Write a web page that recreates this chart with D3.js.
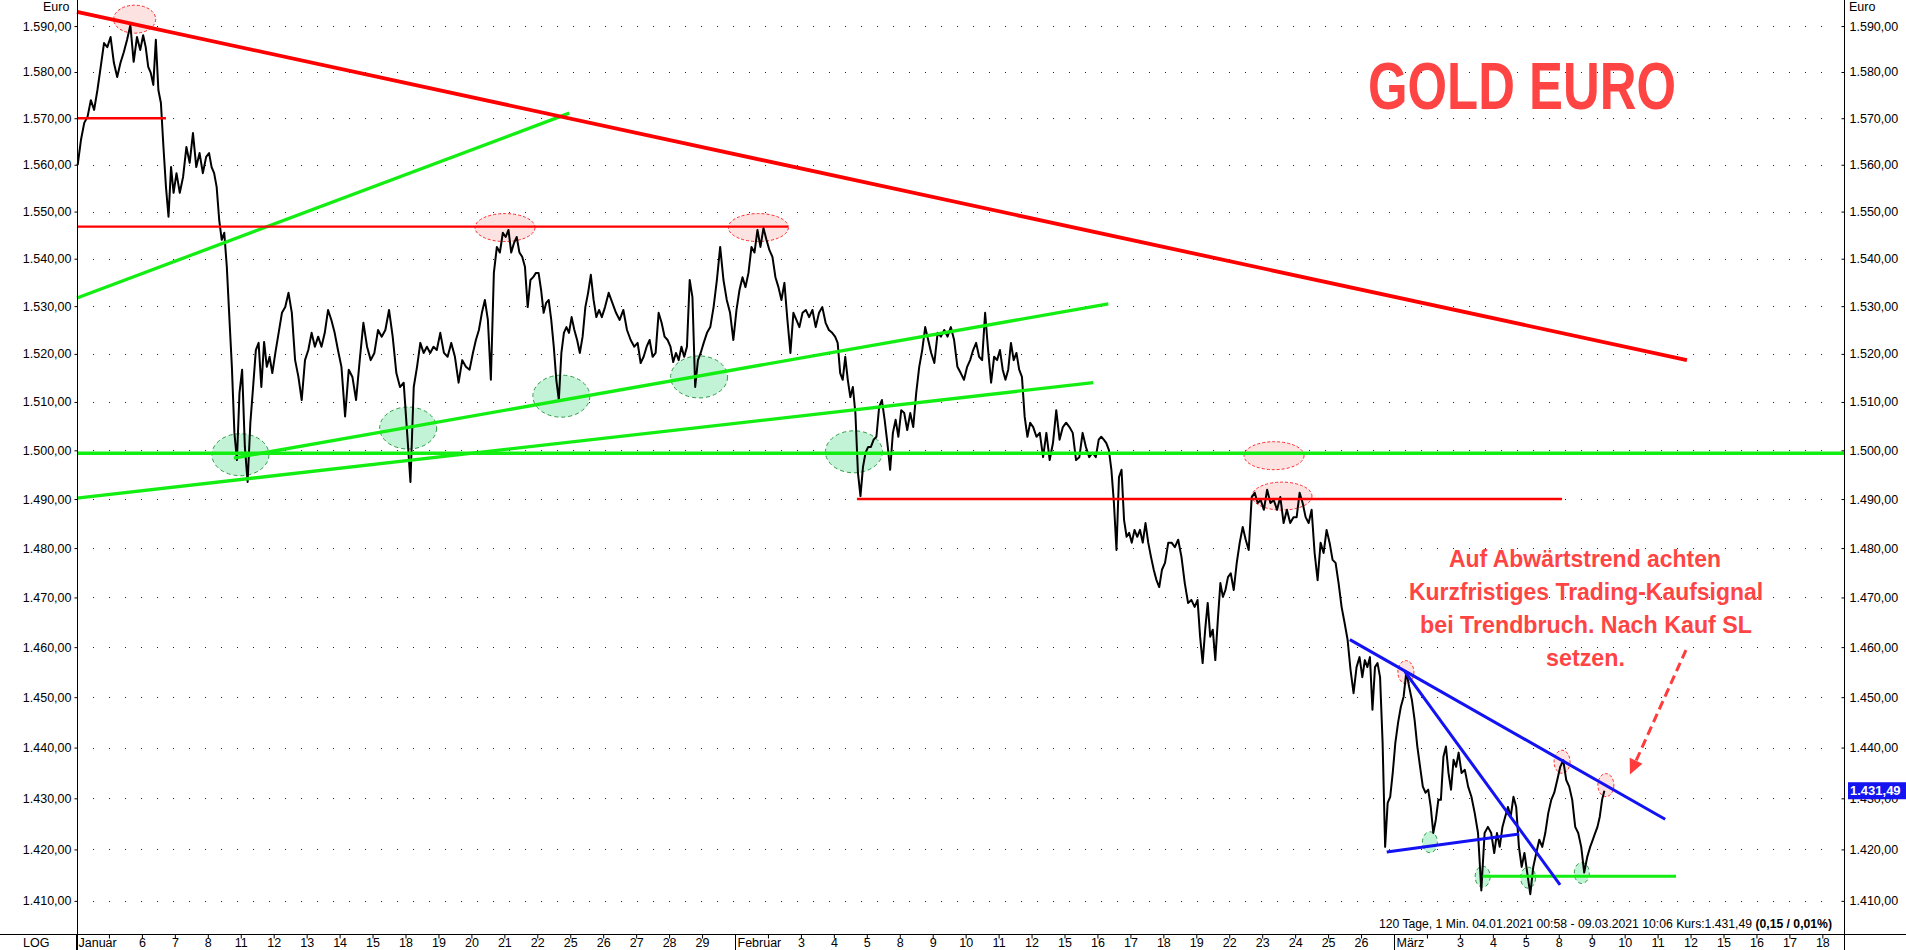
<!DOCTYPE html>
<html lang="de">
<head>
<meta charset="UTF-8">
<title>Gold Euro</title>
<style>
  body { margin: 0; background: #fff; }
  svg { display: block; font-family: "Liberation Sans", Arial, sans-serif; }
  .note { font-weight: bold; fill: #ff4444; }
</style>
</head>
<body>
<svg id="chart" width="1906" height="950"></svg>
<script src="https://cdn.jsdelivr.net/npm/d3@7"></script>
<script>

// trading days on the time axis (04.01. .. 18.03.2021), month start shows the month name
var dayLabels = ["Januar", "", "6", "7", "8", "11", "12", "13", "14", "15", "18", "19", "20", "21", "22", "25", "26", "27", "28", "29",
    "Februar", "", "3", "4", "5", "8", "9", "10", "11", "12", "15", "16", "17", "18", "19", "22", "23", "24", "25", "26",
    "März", "", "3", "4", "5", "8", "9", "10", "11", "12", "15", "16", "17", "18"]

// price path, one list per trading day
var dayPrices = [
    [1559.9, 1565.3, 1569.0, 1570.3, 1573.9, 1571.8, 1576.1, 1581.1, 1586.3, 1585.4],
    [1587.6, 1582.0, 1578.9, 1582.0, 1584.3, 1587.0, 1590.2, 1582.2, 1587.6, 1584.8],
    [1588.0, 1585.4, 1581.1, 1579.8, 1577.2, 1587.0, 1576.1, 1573.3, 1563.8, 1555.2, 1548.9, 1559.5, 1554.0],
    [1558.2, 1554.0, 1557.4, 1563.8, 1560.4, 1566.8, 1559.5, 1562.5, 1558.2, 1561.7],
    [1562.5, 1559.5, 1558.2, 1555.2, 1548.2, 1544.0, 1545.5, 1538.3, 1527.7, 1517.3, 1503.6, 1498.0, 1511.9],
    [1516.7, 1500.7, 1493.5, 1505.7, 1513.1, 1520.8, 1522.3, 1513.1, 1522.5, 1517.3, 1519.4, 1516.0],
    [1520.2, 1524.4, 1528.6, 1529.8, 1532.8, 1528.6, 1518.7, 1515.2, 1510.4, 1518.7],
    [1520.8, 1524.4, 1521.5, 1523.6, 1521.5, 1524.4, 1529.2, 1527.1, 1524.4, 1520.8],
    [1517.3, 1507.0, 1516.7, 1515.2, 1510.4, 1518.7, 1526.5, 1521.5, 1518.7],
    [1520.2, 1525.0, 1523.6, 1525.0, 1529.2, 1523.6, 1516.0, 1513.1, 1514.0],
    [1503.6, 1493.5, 1513.1, 1517.3, 1522.3, 1520.2, 1521.5, 1520.2, 1521.5, 1520.8],
    [1524.4, 1520.2, 1519.4, 1522.3, 1519.4, 1514.0, 1518.7, 1517.3, 1516.7],
    [1520.2, 1522.9, 1525.0, 1528.6, 1531.3, 1527.1, 1514.6, 1537.0, 1542.5, 1541.3, 1545.5],
    [1544.6, 1546.1, 1541.3, 1543.3, 1544.6, 1541.3, 1540.4, 1538.3, 1529.8, 1535.5, 1536.1, 1537.0],
    [1537.0, 1533.4, 1528.6, 1530.7, 1531.3, 1527.1, 1521.5, 1514.6, 1510.4, 1520.2, 1524.4, 1525.6, 1524.4],
    [1527.7, 1525.0, 1522.9, 1520.2, 1523.6, 1529.8, 1532.8, 1536.6, 1531.3, 1527.7, 1529.2, 1527.7],
    [1529.8, 1532.8, 1530.7, 1528.6, 1527.1, 1529.2, 1525.0, 1522.9, 1521.5],
    [1522.3, 1518.1, 1519.4, 1521.5, 1522.9, 1519.4, 1520.2, 1528.6, 1526.5, 1523.6, 1522.9],
    [1521.5, 1518.3, 1520.2, 1518.7, 1521.5, 1519.4, 1521.5, 1535.5, 1531.9, 1513.1, 1518.7, 1520.2],
    [1522.3, 1524.4, 1525.6, 1529.8, 1535.5, 1542.5, 1535.5, 1531.3, 1528.6, 1522.9],
    [1529.2, 1533.4, 1536.1, 1534.0, 1537.0, 1542.5, 1541.3, 1546.1, 1542.5, 1546.5, 1544.0],
    [1541.8, 1540.4, 1536.1, 1534.0, 1531.3, 1534.9, 1527.1, 1520.2, 1528.6, 1527.1, 1525.6],
    [1528.6, 1529.2, 1527.7, 1529.2, 1525.6, 1528.6, 1529.8, 1526.5, 1525.0, 1524.4],
    [1523.6, 1522.3, 1516.0, 1514.6, 1519.4, 1514.6, 1511.0, 1513.1, 1507.7, 1495.4, 1490.6, 1496.6, 1499.5],
    [1500.7, 1500.7, 1502.2, 1502.8, 1509.0, 1510.4, 1506.3, 1501.5, 1496.0, 1503.6, 1506.3, 1502.8],
    [1508.3, 1507.7, 1504.2, 1507.7, 1504.8, 1511.9, 1517.3, 1520.8, 1525.6, 1522.9, 1520.2],
    [1518.1, 1524.4, 1523.6, 1525.0, 1523.6, 1525.6, 1522.9, 1517.3, 1516.0, 1514.6],
    [1517.3, 1518.7, 1520.8, 1522.3, 1519.4, 1518.7, 1528.6, 1520.8, 1514.0, 1519.4, 1518.7],
    [1520.8, 1516.7, 1514.6, 1516.7, 1522.3, 1518.7, 1520.2, 1516.7, 1515.2, 1506.9, 1502.8, 1505.7],
    [1504.8, 1502.8, 1503.6, 1498.6, 1503.6, 1498.0, 1501.5, 1508.3, 1502.2, 1504.8],
    [1505.7, 1504.8, 1503.6, 1498.0, 1498.6, 1503.6, 1500.7, 1498.6, 1499.5, 1498.6],
    [1502.2, 1502.8, 1502.2, 1501.5, 1500.1, 1496.0, 1489.2, 1479.6, 1494.5, 1496.0, 1485.7, 1482.3, 1483.1],
    [1481.1, 1483.7, 1482.3, 1483.7, 1481.1, 1485.1, 1481.1, 1478.2, 1475.6, 1473.5, 1472.1, 1475.6],
    [1477.0, 1481.1, 1481.1, 1480.2, 1481.7, 1478.2, 1472.9, 1468.9, 1469.5, 1468.1],
    [1469.5, 1462.1, 1456.8, 1463.5, 1468.9, 1462.1, 1463.5, 1457.4, 1465.5, 1472.9, 1470.1, 1471.5, 1474.1],
    [1474.9, 1471.5, 1477.0, 1481.1, 1484.3, 1481.7, 1479.6, 1490.4, 1491.3, 1489.2, 1489.8],
    [1487.8, 1491.9, 1489.2, 1489.8, 1487.8, 1490.4, 1485.1, 1487.8, 1485.1, 1486.3],
    [1486.3, 1491.3, 1489.2, 1486.3, 1485.1, 1487.8, 1479.0, 1473.5, 1481.1, 1479.0, 1483.7],
    [1481.1, 1477.6, 1477.0, 1472.9, 1468.1, 1464.9, 1461.5, 1455.4, 1450.8, 1456.0, 1458.0],
    [1454.0, 1457.4, 1456.0, 1458.0, 1447.5, 1456.0, 1456.8, 1454.0, 1441.0, 1420.5, 1429.1, 1430.3, 1435.0],
    [1441.0, 1445.0, 1448.1, 1450.1, 1455.1, 1452.1, 1449.5, 1445.5, 1440.2, 1436.2, 1432.3, 1431.1],
    [1431.7, 1428.3, 1423.2, 1425.8, 1429.7, 1429.7, 1438.2, 1440.2, 1435.0, 1431.7, 1437.6, 1436.2, 1439.0],
    [1435.0, 1435.6, 1432.3, 1430.3, 1427.1, 1423.2, 1412.0, 1423.2, 1424.4, 1423.2],
    [1419.3, 1423.2, 1420.5, 1424.4, 1426.4, 1428.3, 1426.4, 1430.3, 1428.3, 1420.5, 1416.6, 1419.3],
    [1415.4, 1411.3, 1416.6, 1419.3, 1421.9, 1420.5, 1423.2, 1427.1, 1429.7, 1431.1, 1433.6],
    [1436.2, 1437.5, 1433.6, 1432.3, 1429.7, 1424.4, 1423.2, 1420.5, 1415.5, 1418.5, 1420.5],
    [1421.9, 1423.2, 1424.4, 1426.4, 1429.7, 1431.49]
]
var lastDayShare = 0.42   // last quote 09.03. 10:06

var yTicks = [1410, 1420, 1430, 1440, 1450, 1460, 1470, 1480, 1490, 1500, 1510, 1520, 1530, 1540, 1550, 1560, 1570, 1580, 1590]
var lastPrice = 1431.49

// drawn analysis lines: [day0, price0, day1, price1] (day = trading day index)
var redLines = [
    [0.03, 1593.1, 48.89, 1518.7],
    [0.03, 1570.0, 2.73, 1570.0],
    [0.03, 1546.8, 21.61, 1546.8],
    [23.70, 1490.0, 45.10, 1490.0]
]
var greenLines = [
    [0.03, 1531.7, 14.97, 1571.1],
    [0.03, 1499.4, 53.66, 1499.4],
    [0.03, 1490.2, 30.87, 1514.0],
    [4.79, 1498.4, 31.33, 1530.5],
    [42.69, 1414.8, 48.56, 1414.8]
]
var blueLines = [
    [38.66, 1461.5, 48.23, 1425.9],
    [40.33, 1455.1, 45.04, 1413.1],
    [39.78, 1419.5, 43.80, 1423.0]
]
var arrowLine = [48.86, 1459.4, 47.16, 1434.7]

// marked tops / bottoms: [day, price, size]
var tops = [[1.78, 1591.5, "M"], [13.02, 1546.6, "L"], [20.71, 1546.6, "L"], [36.36, 1498.9, "L"], [36.60, 1490.6, "L"],
    [40.36, 1455.0, "S"], [45.10, 1437.2, "S"], [46.43, 1432.6, "S"]]
var bottoms = [[4.99, 1499.1, "L"], [10.08, 1504.6, "L"], [14.73, 1511.2, "L"], [18.91, 1515.2, "L"], [23.61, 1499.7, "L"],
    [41.09, 1421.4, "S"], [42.69, 1414.7, "S"], [44.07, 1414.5, "S"], [45.70, 1415.4, "S"]]

var left = 77, right = 1844, bottom = 934, dayW = 32.95

var svg = d3.select("#chart")
var x = d3.scaleLinear().domain([0, dayLabels.length]).range([76, 76 + dayLabels.length * dayW])
var y = d3.scaleLog().domain([1403.6, 1595.7]).range([bottom, 0])
var de = d3.formatLocale({decimal: ",", thousands: ".", grouping: [3], currency: ["", " €"]})
var fmt = de.format(",.2f")

svg.append("rect").attr("width", 1906).attr("height", 950).attr("fill", "#fff")

// dotted grid rows
var grid = svg.append("g").attr("shape-rendering", "crispEdges")
yTicks.forEach(function (v) {
    for (var k = 1; left + 16 * k < right - 16; k++) {
        grid.append("rect").attr("x", left + 16 * k).attr("y", Math.round(y(v)))
            .attr("width", 1).attr("height", 1).attr("fill", "#222")
    }
})

// marker ellipses
var rad = {topL: [30, 14], topM: [21, 14], topS: [8, 11.5], botL: [28.5, 21], botS: [7.5, 10.5]}
svg.append("g").selectAll("ellipse").data(tops).enter().append("ellipse")
    .attr("cx", function (d) { return x(d[0]) })
    .attr("cy", function (d) { return y(d[1]) })
    .attr("rx", function (d) { return rad["top" + d[2]][0] })
    .attr("ry", function (d) { return rad["top" + d[2]][1] })
    .attr("fill", "#fde2e2").attr("stroke", "#ff2b2b").attr("stroke-width", 1).attr("stroke-dasharray", "3,2")
svg.append("g").selectAll("ellipse").data(bottoms).enter().append("ellipse")
    .attr("cx", function (d) { return x(d[0]) })
    .attr("cy", function (d) { return y(d[1]) })
    .attr("rx", function (d) { return rad["bot" + d[2]][0] })
    .attr("ry", function (d) { return rad["bot" + d[2]][1] })
    .attr("fill", "#c3f3d6").attr("stroke", "#2f9b45").attr("stroke-width", 1).attr("stroke-dasharray", "4,3")

// price path
var pts = []
dayPrices.forEach(function (arr, i) {
    var share = i === dayPrices.length - 1 ? lastDayShare : 1
    arr.forEach(function (p, j) {
        pts.push([i + (j + 0.5) / arr.length * share, p])
    })
})
svg.append("path").datum(pts)
    .attr("d", d3.line().x(function (d) { return x(d[0]) }).y(function (d) { return y(d[1]) }))
    .attr("fill", "none").attr("stroke", "#000").attr("stroke-width", 2).attr("stroke-linejoin", "round")

// analysis lines
function drawLines(data, color, widths) {
    svg.append("g").selectAll("line").data(data).enter().append("line")
        .attr("x1", function (d) { return x(d[0]) })
        .attr("y1", function (d) { return y(d[1]) })
        .attr("x2", function (d) { return x(d[2]) })
        .attr("y2", function (d) { return y(d[3]) })
        .attr("stroke", color)
        .attr("stroke-width", function (d, i) { return widths[i] })
}
drawLines(greenLines, "#12ee12", [3.3, 3.6, 3.3, 3.3, 3])
drawLines(redLines, "#ff0000", [3.8, 2.4, 2.4, 2.6])
drawLines(blueLines, "#1212f2", [3, 3, 3])

// dashed arrow to the break point
var ax1 = x(arrowLine[0]), ay1 = y(arrowLine[1]), ax2 = x(arrowLine[2]), ay2 = y(arrowLine[3])
var len = Math.hypot(ax2 - ax1, ay2 - ay1), ux = (ax2 - ax1) / len, uy = (ay2 - ay1) / len
svg.append("line")
    .attr("x1", ax1).attr("y1", ay1).attr("x2", ax2 - ux * 12).attr("y2", ay2 - uy * 12)
    .attr("stroke", "#ff3b3b").attr("stroke-width", 3).attr("stroke-dasharray", "9,5")
svg.append("polygon")
    .attr("points", [[ax2, ay2], [ax2 - ux * 15 - uy * 7, ay2 - uy * 15 + ux * 7], [ax2 - ux * 15 + uy * 7, ay2 - uy * 15 - ux * 7]].join(" "))
    .attr("fill", "#ff3b3b")

// title and comment
svg.append("text").attr("class", "note").attr("x", 1368).attr("y", 109)
    .attr("font-size", 67).attr("textLength", 308).attr("lengthAdjust", "spacingAndGlyphs")
    .text("GOLD EURO")
var comment = [
    ["Auf Abwärtstrend achten", 1449, 567, 272],
    ["Kurzfristiges Trading-Kaufsignal", 1409, 600, 354],
    ["bei Trendbruch. Nach Kauf SL", 1420, 633, 332],
    ["setzen.", 1546, 666, 79]
]
svg.append("g").selectAll("text").data(comment).enter().append("text")
    .attr("class", "note").attr("font-size", 24)
    .attr("x", function (d) { return d[1] })
    .attr("y", function (d) { return d[2] })
    .attr("textLength", function (d) { return d[3] })
    .attr("lengthAdjust", "spacingAndGlyphs")
    .text(function (d) { return d[0] })

// frame lines
svg.append("line").attr("x1", 0).attr("x2", 1906).attr("y1", bottom + 0.5).attr("y2", bottom + 0.5).attr("stroke", "#000")
svg.append("line").attr("x1", left + 0.5).attr("x2", left + 0.5).attr("y1", 0).attr("y2", 950).attr("stroke", "#000")
svg.append("line").attr("x1", right + 0.5).attr("x2", right + 0.5).attr("y1", 0).attr("y2", 950).attr("stroke", "#000")

function styleAxis(g) {
    g.select(".domain").remove()
    g.attr("font-size", 12.5).attr("font-family", "'Liberation Sans', Arial, sans-serif")
    g.selectAll("text").attr("fill", "#000")
    g.selectAll("line").attr("stroke", "#000")
}

svg.append("g").attr("transform", "translate(" + (left + 0.5) + ",0)")
    .call(d3.axisLeft(y).tickValues(yTicks).tickFormat(fmt).tickSizeInner(3).tickSizeOuter(0).tickPadding(3))
    .call(styleAxis)
svg.append("g").attr("transform", "translate(" + (right + 0.5) + ",0)")
    .call(d3.axisRight(y).tickValues(yTicks).tickFormat(fmt).tickSizeInner(-3).tickSizeOuter(0).tickPadding(5))
    .call(styleAxis)

var xAxis = svg.append("g").attr("transform", "translate(0," + (bottom + 0.5) + ")")
    .call(d3.axisBottom(x).tickValues(d3.range(dayLabels.length)).tickFormat(function (i) { return dayLabels[i] })
        .tickSizeInner(4).tickSizeOuter(0).tickPadding(2))
    .call(styleAxis)
xAxis.selectAll(".tick text").attr("y", 3.3)
xAxis.selectAll(".tick").filter(function (i) { return dayLabels[i].length > 2 })
    .each(function () {
        d3.select(this).select("line").attr("y2", 16)
        d3.select(this).select("text").attr("text-anchor", "start").attr("x", 2)
    })

svg.append("text").attr("x", 43).attr("y", 11).attr("font-size", 12.5).text("Euro")
svg.append("text").attr("x", right + 5).attr("y", 11).attr("font-size", 12.5).text("Euro")
svg.append("text").attr("x", 23).attr("y", 946.5).attr("font-size", 12.5).text("LOG")

var footer = svg.append("text").attr("x", 1832).attr("y", 928).attr("font-size", 12.2).attr("text-anchor", "end")
footer.append("tspan").text("120 Tage, 1 Min. 04.01.2021 00:58 - 09.03.2021 10:06 Kurs:" + fmt(lastPrice) + " ")
footer.append("tspan").attr("font-weight", "bold").text("(0,15 / 0,01%)")

// last price tag
svg.append("rect").attr("x", right + 4).attr("y", y(lastPrice) - 8.5).attr("width", 62).attr("height", 17).attr("fill", "#1414f0")
svg.append("text").attr("x", right + 6).attr("y", y(lastPrice)).attr("dy", "0.36em")
    .attr("font-size", 13).attr("font-weight", "bold").attr("fill", "#fff").text(fmt(lastPrice))

</script>
</body>
</html>
